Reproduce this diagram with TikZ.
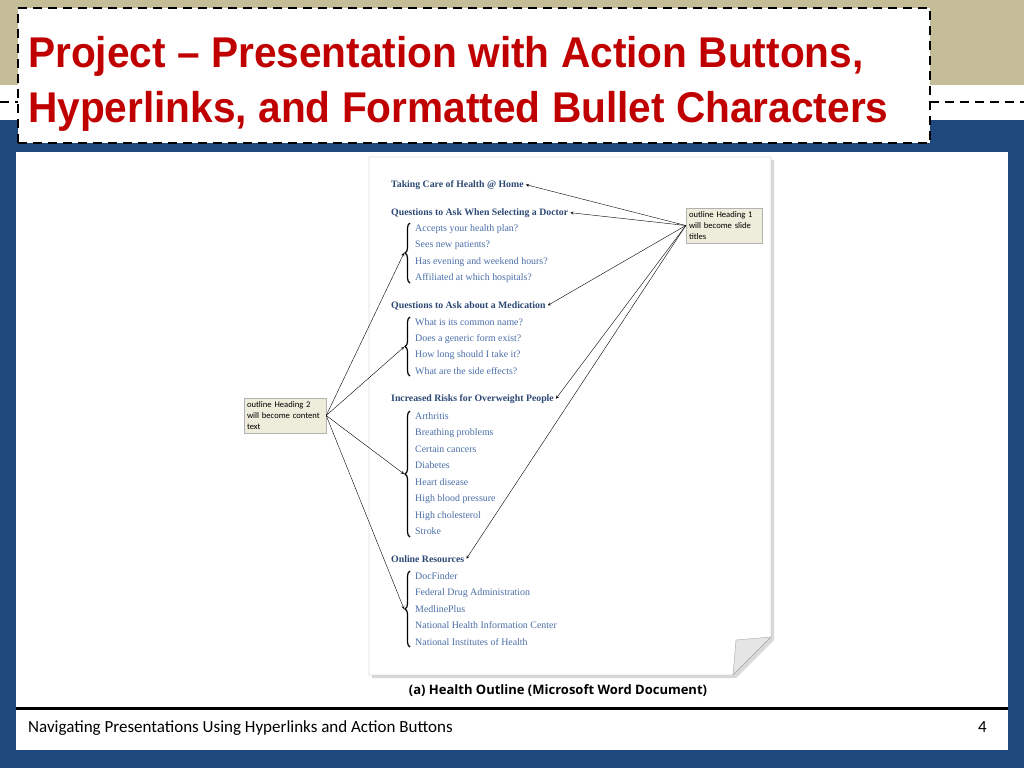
\documentclass[tikz,border=0pt]{standalone}
\usepackage{fontspec}
\setmainfont{Liberation Serif}
\newfontfamily\titlefont{Liberation Sans}[FakeStretch=0.945]
\newfontfamily\notefont{Carlito}
\newfontfamily\capfont{Open Sans}
\usepackage{tikz}
\usetikzlibrary{arrows,positioning,decorations.pathreplacing}

\definecolor{slidetan}{RGB}{196,189,151}
\definecolor{slideblue}{RGB}{31,73,125}
\definecolor{titlered}{RGB}{192,0,0}
\definecolor{headblue}{RGB}{44,72,117}
\definecolor{itemblue}{RGB}{74,110,168}
\definecolor{notefill}{RGB}{238,236,218}

\tikzset{
  titletext/.style={font=\titlefont\bfseries\fontsize{43}{50}\selectfont, text=titlered, anchor=base west, inner sep=0pt},
  heading/.style={font=\fontsize{9.8}{11}\selectfont\bfseries, text=headblue, anchor=base west, inner sep=2pt},
  item/.style={font=\fontsize{9.9}{11}\selectfont, text=itemblue, anchor=base west, inner sep=1pt},
  note/.style={draw=gray!60, fill=notefill, font=\notefont\fontsize{8.6}{11.2}\selectfont, align=left, inner sep=3pt, minimum height=33pt},
  bracket/.style={decorate, decoration={brace, amplitude=5pt}, line width=1.2pt},
}

\begin{document}
\begin{tikzpicture}[x=1pt,y=-1pt,>=stealth,thin]
\useasboundingbox (0,0) rectangle (1024,768);
% slide background
\fill[slidetan] (0,0) rectangle (1024,85);
\fill[slideblue] (0,120) rectangle (1024,768);
\fill[white] (16,152) rectangle (1008,750);
\draw[line width=3pt] (16,708) -- (1008,708);
\draw[line width=2.5pt, dash pattern=on 9pt off 6pt] (0,102) -- (1024,102);

% title
\node[draw, fill=white, line width=2.5pt, dash pattern=on 9pt off 6pt,
      minimum width=912pt, minimum height=135pt] (box) at (474,75.5) {};
\node[titletext] (t_1) at (28,67) {Project – Presentation with Action Buttons,};
\node[titletext] (t_2) at (28,122) {Hyperlinks, and Formatted Bullet Characters};

% word page
\fill[black!15] (372,160) -- (774,160) -- (774,640) -- (736,678) -- (372,678) -- cycle;
\draw[gray!70, fill=white] (369,157) -- (771,157) -- (771,637) -- (733,675) -- (369,675) -- cycle;
\draw[gray!70, fill=gray!20] (733,675) -- (736,640) -- (771,637) -- cycle;

% headings
\node[heading] (h_1) at (389,187) {Taking Care of Health @ Home};
\node[heading] (h_2) at (389,215) {Questions to Ask When Selecting a Doctor};
\node[heading] (h_3) at (389,308) {Questions to Ask about a Medication};
\node[heading] (h_4) at (389,401) {Increased Risks for Overweight People};
\node[heading] (h_5) at (389,562) {Online Resources};

% items
\foreach \txt [count=\i] in {Accepts your health plan?, Sees new patients?,
    Has evening and weekend hours?, Affiliated at which hospitals?}
  \node[item] (a_\i) at (414,{231+16.6*(\i-1)}) {\txt};
\foreach \txt [count=\i] in {What is its common name?, Does a generic form exist?,
    How long should I take it?, What are the side effects?}
  \node[item] (b_\i) at (414,{325+16.4*(\i-1)}) {\txt};
\foreach \txt [count=\i] in {Arthritis, Breathing problems, Certain cancers, Diabetes,
    Heart disease, High blood pressure, High cholesterol, Stroke}
  \node[item] (c_\i) at (414,{419+16.5*(\i-1)}) {\txt};
\foreach \txt [count=\i] in {DocFinder, Federal Drug Administration, MedlinePlus,
    National Health Information Center, National Institutes of Health}
  \node[item] (d_\i) at (414,{579+16.5*(\i-1)}) {\txt};

% braces
\draw[bracket] (410,283) -- (410,223);
\draw[bracket] (410,376) -- (410,317);
\draw[bracket] (410,537) -- (410,411);
\draw[bracket] (410,647) -- (410,571);
\coordinate (k_1) at (404,253);
\coordinate (k_2) at (404,347);
\coordinate (k_3) at (404,474);
\coordinate (k_4) at (404,609);

% callouts
\node[note, text width=70pt] (n_1) at (724,225.5) {outline Heading 1\\will become slide\\titles};
\node[note, text width=76pt] (n_2) at (285,415.5) {outline Heading 2\\will become content\\text};
\path[->] (n_1.west) edge (h_1.east) edge (h_2.east) edge (h_3.east)
                     edge (h_4.east) edge (h_5.east);
\path[->] (n_2.east) edge (k_1) edge (k_2) edge (k_3) edge (k_4);

% caption and footer
\node[font=\capfont\bfseries\fontsize{13}{15}\selectfont] (cap) at (558,691)
  {(a) Health Outline (Microsoft Word Document)};
\node[font=\notefont\fontsize{17}{19}\selectfont, anchor=base west, inner sep=0pt] (foot) at (28,732)
  {Navigating Presentations Using Hyperlinks and Action Buttons};
\node[font=\notefont\fontsize{17}{19}\selectfont, anchor=base east, inner sep=0pt] (num) at (987,732) {4};
\end{tikzpicture}
\end{document}
